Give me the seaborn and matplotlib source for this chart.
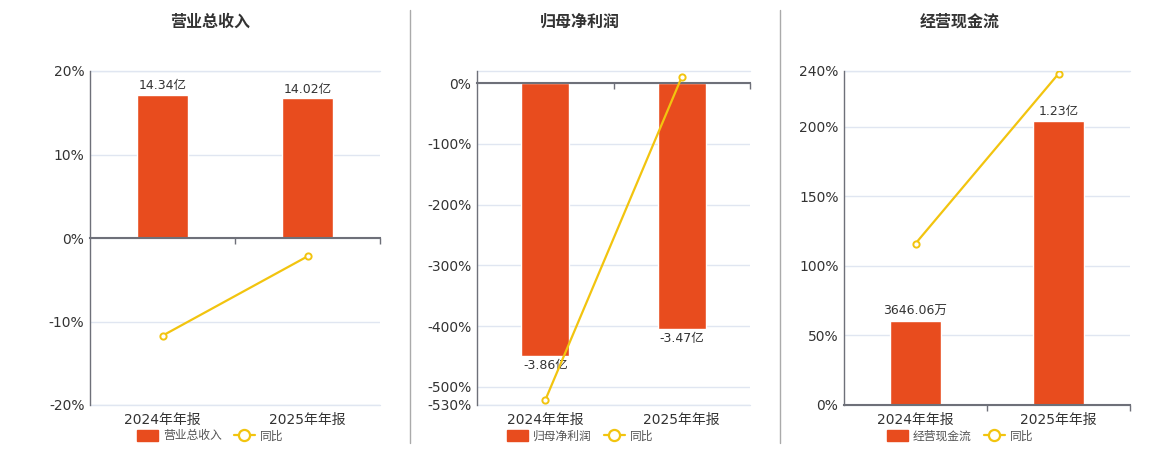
import matplotlib
matplotlib.use("Agg")
import matplotlib.pyplot as plt
import seaborn as sns
from matplotlib.patches import Patch
from matplotlib.lines import Line2D

# Data
categories = ["2024年年报", "2025年年报"]

titles = ["营业总收入", "归母净利润", "经营现金流"]

revenue = [14.34, 14.02]          # 亿
revenue_yoy = [-11.7, -2.2]       # %
revenue_labels = ["14.34亿", "14.02亿"]

profit = [-3.86, -3.47]           # 亿
profit_yoy = [-522.0, 10.1]
profit_labels = ["-3.86亿", "-3.47亿"]

cashflow = [0.3646, 1.23]         # 亿
cashflow_yoy = [116.0, 238.0]
cashflow_labels = ["3646.06万", "1.23亿"]

# Percent axis ticks per panel
pct_ticks = [
    [-20, -10, 0, 10, 20],
    [-530, -500, -400, -300, -200, -100, 0],
    [0, 50, 100, 150, 200, 240],
]
pct_lims = [(-20, 20), (-530, 20), (0, 240)]
# hidden bar axis: 亿 per 1% so bars fit the shared grid
bar_scale = [14.34 / 17.1, 3.86 / 450, 1.23 / 204]

sns.set_theme(style="white")
plt.rcParams["font.family"] = ["DejaVu Sans", "Noto Sans CJK SC"]
plt.rcParams["axes.unicode_minus"] = False

BAR = "#e84c1e"
LINE = "#f2c40f"
AXIS = "#6e7079"
GRID = "#e0e6f1"
TEXT = "#333333"

W, H = 1160, 450
fig = plt.figure(figsize=(11.6, 4.5), dpi=100)

rects = [(90, 380), (477, 750), (844, 1130)]
title_x = [210, 580, 960]
panels = [
    (revenue, revenue_yoy, revenue_labels),
    (profit, profit_yoy, profit_labels),
    (cashflow, cashflow_yoy, cashflow_labels),
]

for i, (vals, yoy, labels) in enumerate(panels):
    x0, x1 = rects[i]
    ax = fig.add_axes([x0 / W, 45 / H, (x1 - x0) / W, 334 / H])
    ax_bar = ax.twinx()
    ax_line = ax.twinx()

    lo, hi = pct_lims[i]

    # bars on hidden axis
    sns.barplot(x=categories, y=vals, ax=ax_bar, color=BAR, width=0.35,
                saturation=1)
    ax_bar.set_ylim(lo * bar_scale[i], hi * bar_scale[i])
    ax_bar.bar_label(ax_bar.containers[0], labels=labels, padding=2,
                     fontsize=9, color=TEXT)

    # yoy line
    sns.lineplot(x=categories, y=yoy, ax=ax_line, color=LINE, linewidth=1.6,
                 marker="o", markersize=4.5, markerfacecolor="white",
                 markeredgecolor=LINE, markeredgewidth=1.4)
    ax_line.set_ylim(lo, hi)

    for a in (ax_bar, ax_line):
        a.yaxis.set_visible(False)
        for s in a.spines.values():
            s.set_visible(False)

    # percent axis with grid
    ax.set_ylim(lo, hi)
    ax.set_yticks(pct_ticks[i])
    ax.set_yticklabels([f"{t}%" for t in pct_ticks[i]])
    ax.yaxis.grid(True, color=GRID, linewidth=1)
    for edge in (lo, hi):
        ax.axhline(edge, color=GRID, linewidth=1, clip_on=False, zorder=0)
    ax.set_axisbelow(True)
    ax.set_xlim(-0.5, 1.5)
    ax.set_xticks([0, 1])
    ax.set_xticklabels(categories)
    ax.tick_params(axis="y", length=0, pad=4, labelsize=10, labelcolor=TEXT)
    ax.tick_params(axis="x", length=0, pad=6, labelsize=10, labelcolor=TEXT)
    for s in ("top", "right", "bottom"):
        ax.spines[s].set_visible(False)
    ax.spines["left"].set_color(AXIS)
    ax.spines["left"].set_linewidth(1)

    # zero line with category boundary ticks
    frac0 = (0 - lo) / (hi - lo)
    zero = ax_line.secondary_xaxis(frac0)
    zero.set_alignment("bottom")
    zero.set_xticks([0.5, 1.5], labels=["", ""])
    zero.tick_params(length=4, color=AXIS, width=1)
    zero.spines["bottom"].set_color(AXIS)
    zero.spines["bottom"].set_linewidth(1.5)

    fig.text(title_x[i] / W, 1 - 22 / H, titles[i], ha="center", va="center",
             fontsize=11.5, fontweight="bold", color=TEXT)

    handles = [
        Patch(facecolor=BAR, edgecolor=BAR),
        Line2D([], [], color=LINE, linewidth=1.6, marker="o", markersize=8,
               markerfacecolor="white", markeredgecolor=LINE,
               markeredgewidth=1.6),
    ]
    fig.legend(handles=handles, labels=[titles[i], "同比"], loc="center",
               bbox_to_anchor=(title_x[i] / W, 1 - 436 / H), ncol=2,
               frameon=False, fontsize=8.5, handlelength=1.8,
               handleheight=1.0, columnspacing=1.0, handletextpad=0.4,
               labelcolor="#555555")

# panel separators
for xs in (410, 780):
    fig.add_artist(Line2D([xs / W, xs / W], [1 - 10 / H, 1 - 443 / H],
                          transform=fig.transFigure, color="#aaaaaa",
                          linewidth=1))

fig.savefig("out.png", dpi=100)
